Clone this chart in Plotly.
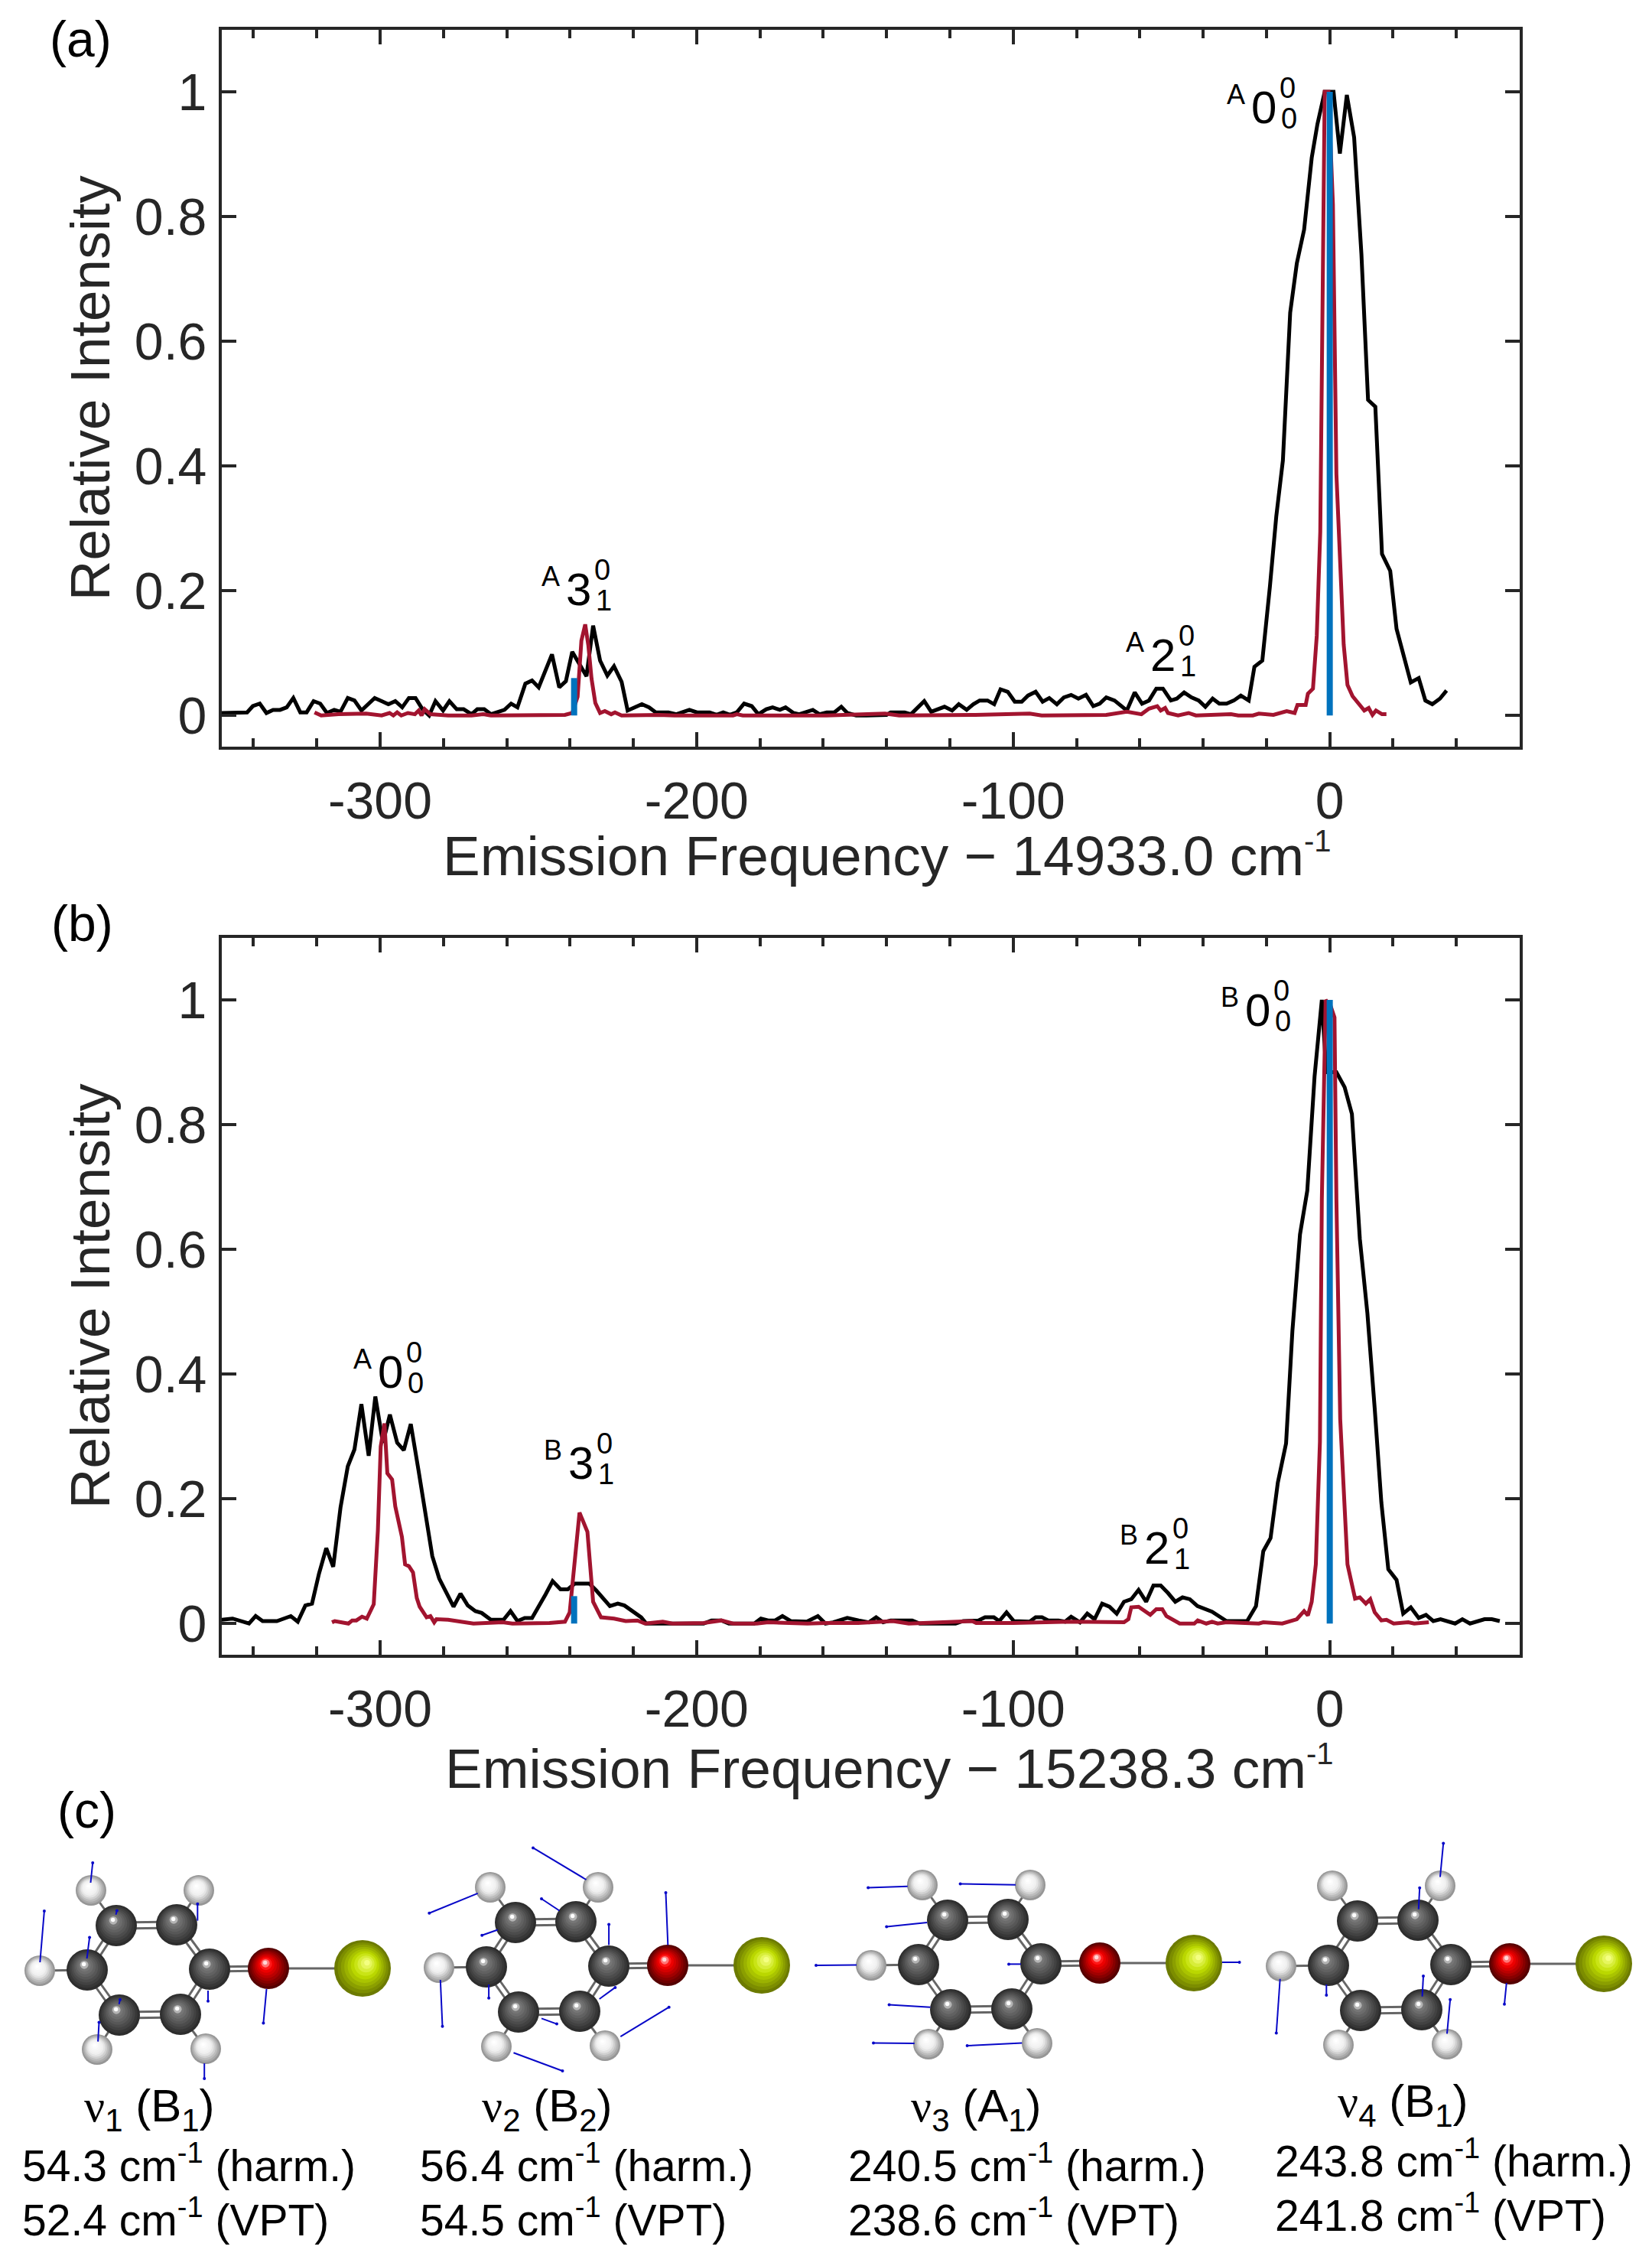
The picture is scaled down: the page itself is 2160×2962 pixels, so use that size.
import plotly.graph_objects as go

WIDTH = 2160
HEIGHT = 2962
TEXT = "#262626"
FONT = "Liberation Sans"

# (a) measured and simulated spectra, cm-1 relative to the band origin
freq_a_exp = [
    -350.1, -342, -340.2, -338, -335.9, -333.8, -331.6, -329.5, -327.4, -325.2, -323.2, -321, -318.9,
    -316.8, -314.5, -312.5, -310.2, -308.1, -305.9, -301.7, -299.5, -297.4, -295.2, -293, -290.9, -288.8,
    -286.6, -284.5, -282.5, -280.1, -278.1, -275.8, -273.6, -271.1, -269.3, -267.1, -265, -260.7, -258.6,
    -256.6, -254.1, -252, -249.9, -247.7, -245.7, -243.4, -241.3, -239.3, -237.2, -234.8, -232.7, -230.5,
    -228.2, -226.1, -223.7, -221.8, -217.3, -215, -212.9, -208.9, -206.4, -202.3, -199.9, -195.9, -193.7,
    -191.6, -189.5, -187.3, -185, -182.6, -180.5, -178, -176, -173.7, -171.9, -169.4, -167.6, -163.3,
    -161.2, -158.9, -156.5, -154.3, -152.4, -149.6, -146.4, -140, -138.7, -134.3, -132.3, -128.1, -125.9,
    -121.7, -119.3, -117.2, -114.7, -112.6, -110.6, -108.1, -106, -104, -101.7, -99.5, -97.3, -95.3,
    -92.9, -90.7, -88.6, -86.2, -84, -81.7, -79.4, -77, -74.7, -72.7, -70.6, -68, -64.1, -61.6, -59.3,
    -57.1, -54.8, -52.7, -50.2, -48.3, -46, -43.7, -41.4, -39.3, -37, -34.9, -32.6, -30.3, -28.1, -25.6,
    -23.8, -21.3, -18.9, -16.9, -14.8, -12.5, -10.4, -8.1, -5.7, -3.9, -1.6, 1.2, 3.2, 5.4, 7.7, 10, 12.1,
    14.4, 16.5, 19.1, 21.1, 25.6, 28.1, 30.2, 32.4, 34.8, 36.9,
]
int_a_exp = [
    .004, .005, .015, .019, .004, .009, .009, .013, .028, .005, .005, .023, .019,
    .004, .009, .006, .028, .024, .008, .028, .023, .018, .023, .013, .028, .028,
    .010, 0, .023, .008, .023, .010, .010, .002, .010, .010, .002, .009, .019,
    .013, .051, .056, .045, .073, .098, .045, .055, .102, .083, .063, .144, .088,
    .064, .079, .054, .008, .018, .013, .005, .005, .002, .009, .005, .005, .001,
    .005, .001, .005, .019, .015, .002, .010, .013, .009, .013, .004, .002, .009,
    .002, .005, .005, .014, .004, 0, 0, .001, .005, .005, .002, .023, .006,
    .014, .008, .018, .009, .018, .024, .024, .018, .042, .038, .022, .022, .032,
    .038, .022, .028, .018, .029, .033, .027, .033, .015, .019, .029, .024, .008, .037, .019,
    .024, .043, .043, .024, .027, .037, .029, .024, .014, .027, .019, .019, .024, .032, .024,
    .078, .088, .207, .319, .409, .646, .725, .779, .894, .948, 1.0, 1.0, .901, .995, .927, .740, .506,
    .495, .259, .232, .139, .053, .060, .024, .018, .027, .040,
]
freq_a_sim = [
    -320.7, -318.6, -313.1, -304.4, -299.5, -297, -295.8, -294.6, -293.3, -291.2, -289, -287.8, -286.9,
    -285.9, -284.1, -278.5, -271.1, -267.4, -265, -247.7, -241.6, -239.3, -237.6, -236.4, -235.2, -234.2,
    -233.2, -232, -230.5, -229, -227, -225.8, -223.7, -212, -207, -188.5, -187.3, -185.4, -159, -140.5,
    -136, -112, -94.8, -91, -81.7, -70.6, -64.1, -59.5, -57.1, -54.5, -53.4, -52, -51.1, -47.9, -44.6,
    -42.3, -31.2, -28.9, -24.3, -22.4, -17.8, -13.6, -11.1, -10.2, -7.6, -6.9, -5.3, -4.1, -3, -2.3, -1.6,
    -.4, 1, 2.1, 4.4, 5.6, 7.2, 10.9, 12.3, 13.5, 14.6, 16.5, 17.9,
]
int_a_sim = [
    .005, 0, .002, .003, 0, .004, 0, .005, 0, .004, .002, .008, 0,
    .01, .002, 0, 0, .002, 0, 0, .001, .004, .03, .12, .146, .112,
    .059, .02, .004, .007, .002, .005, 0, .001, 0, 0, .002, 0, 0, .003,
    0, .001, .003, 0, .001, .001, .006, .002, .011, .015, .008, .012, .004, 0, .004,
    0, .002, 0, 0, .003, .001, .007, .004, .017, .017, .035, .043, .128, .294, .689, 1.0,
    1.0, .819, .387, .114, .049, .031, .008, .012, .001, .008, .002, .002,
]
freq_a_stick = [-238.7, 0]
int_a_stick = [.06, 1]

# (b)
freq_b_exp = [
    -350.1, -346.6, -341.4, -339.3, -337.1, -332.6, -328.2, -326, -323.6, -321.5, -319.3, -317, -314.8,
    -312.5, -310.2, -308.1, -305.9, -303.6, -301.5, -299.1, -296.9, -294.6, -292.5, -290.3, -287.9, -285.7,
    -283.5, -281.3, -278.9, -276.8, -274.6, -272.3, -269.9, -267.9, -265, -261, -258.8, -256.6, -254.3,
    -252, -247.7, -245.5, -243, -240.7, -238.5, -233.9, -231.7, -227.4, -224.9, -222.8, -217.5, -215.9,
    -208.3, -197.8, -195.3, -192.2, -189.8, -181.8, -179.7, -177.4, -175.2, -172.9, -170.3, -165.2, -161.7,
    -159.3, -156.9, -152.4, -148.8, -145.6, -143.3, -141.1, -138.7, -131.9, -129.5, -118.2, -115.8, -111,
    -108.9, -106.1, -104.4, -102.1, -99.8, -94.8, -92.9, -90.9, -88.9, -85.7, -83.6, -81.7, -78.9, -76.6,
    -74.3, -71.9, -69.6, -67.3, -65, -62.7, -60.4, -58, -55.7, -53.4, -51.1, -48.8, -46.5, -44.2, -41.8,
    -37.2, -32.6, -26.1, -23.3, -21, -18.7, -16.4, -13.8, -11.8, -9.4, -7.1, -4.8, -2.5, -1.1, 2.1, 4.7, 7,
    9.5, 11.9, 14.2, 16.3, 18.5, 21.1, 23.2, 25.6, 28.1, 30.4, 32.7, 35, 39.6, 41.9, 44.3, 48.9, 51.2, 53.7,
]
int_b_exp = [
    .006, .008, 0, .012, .004, .004, .012, .003, .029, .032, .080, .121, .091,
    .186, .252, .279, .352, .269, .364, .290, .335, .290, .278, .320, .247, .178,
    .108, .072, .047, .027, .048, .029, .020, .017, .006, .006, .020, .004, .009,
    .009, .047, .068, .055, .055, .064, .064, .053, .028, .032, .029, .010, 0,
    0, 0, .005, .005, 0, 0, .008, .005, .005, .012, .004, .003, .012,
    0, .002, .009, .005, .002, .01, .002, .005, .005, 0, 0, .004, .005,
    .01, .01, .004, .018, .004, .003, .01, .01, .005, .005, .003, .011, .002, .016,
    .007, .032, .027, .016, .035, .039, .054, .035, .061, .061, .049, .035, .042, .039, .028,
    .019, .004, .004, .028, .116, .137, .226, .289, .469, .624, .694, .877, 1.0, .884, .884, .860, .817,
    .617, .497, .345, .194, .087, .070, .016, .026, .009, .014, .004, .007, 0, .007, 0, .007, .007, .004,
]
freq_b_sim = [
    -315.2, -314.3, -310, -308.8, -307.5, -305.7, -304.2, -302, -300.7, -299.8, -298.6, -297.7, -296.2,
    -295.2, -293.1, -292.1, -290.9, -289.6, -288.4, -287.5, -285.3, -284.1, -282.9, -282.2, -278.5, -273.6,
    -270.5, -261.3, -258.2, -246.5, -241.6, -240.1, -238.5, -237, -234.5, -233.5, -232.7, -230.2, -226.1,
    -222.4, -218.7, -216.3, -210.7, -207.6, -197.8, -192.2, -188.5, -181, -177.4, -165, -159.2, -149, -138,
    -133, -119.5, -113, -111.7, -100, -82, -72.4, -65, -63.6, -62.7, -60.4, -56.7, -54.8, -52.9, -51.6,
    -47.4, -42.8, -41.7, -39, -37.2, -35.4, -32.6, -22.4, -21, -15, -12.7, -10.4, -8.1, -6.9, -5.7, -4.4,
    -3.1, -2.5, -1.3, .3, 1.5, 2.1, 3.3, 4.6, 5.6, 8, 9.5, 11.4, 12.8, 14.2, 16.3, 17.9, 20.2, 24.8, 26.7,
    31.3,
]
int_b_sim = [
    .002, .004, 0, .005, .005, .011, .008, .031, .149, .284, .321, .241, .231,
    .188, .139, .095, .092, .082, .041, .027, .010, .012, .002, .007, .006, .003,
    0, .002, 0, .001, .003, .018, .096, .178, .147, .088, .035, .010, .008,
    .004, .005, 0, .003, 0, .001, .005, 0, 0, .002, 0, .001, .001, .004,
    0, .003, .004, .001, .001, .003, .002, .002, .007, .026, .027, .014, .023, .023, .012,
    0, 0, .005, 0, .003, 0, .002, 0, .002, 0, .004, .007, .020, .013, .035, .095,
    .292, .680, 1.0, .990, .972, .680, .328, .194, .095, .040, .042, .032, .039, .018, .005, .006, 0, .002, 0,
    .002,
]
freq_b_stick = [-238.7, 0]
int_b_stick = [.044, 1]

x_ticks = [-300, -200, -100, 0]
x_tick_labels = ["-300", "-200", "-100", "0"]
y_ticks = [0, .2, .4, .6, .8, 1]
y_tick_labels = ["0", "0.2", "0.4", "0.6", "0.8", "1"]

# peak labels: state, number, upper, lower and where the number sits on the page
peak_states = ["A", "A", "A", "B", "A", "B", "B"]
peak_numbers = ["3", "2", "0", "3", "0", "2", "0"]
peak_lower = ["1", "1", "0", "1", "0", "1", "0"]
peak_x = [756, 1520, 1652, 759, 510, 1512, 1644]
peak_y = [770, 856, 140, 1912, 1793, 2023, 1320]

NU = "<span style='font-family:Liberation Serif'>ν</span>"
mode_names = [NU + "<sub>1</sub> (B<sub>1</sub>)", NU + "<sub>2</sub> (B<sub>2</sub>)",
              NU + "<sub>3</sub> (A<sub>1</sub>)", NU + "<sub>4</sub> (B<sub>1</sub>)"]
mode_harm = ["54.3", "56.4", "240.5", "243.8"]
mode_vpt = ["52.4", "54.5", "238.6", "241.8"]
mode_name_pos = [(195, 2757), (715, 2757), (1276, 2757), (1834, 2751)]
mode_text_x = [27, 547, 1107, 1665]
mode_text_dy = [0, 0, 0, -6]

# molecule drawing, page pixels, first molecule + offset of each one
hydrogen = [(119, 2471), (260, 2471), (52, 2576), (127, 2679), (269, 2678)]
carbon = [(152, 2517), (231, 2516), (114, 2575), (274, 2574), (156, 2634), (236, 2633)]
oxygen = [(351, 2573)]
halogen = [(474, 2573)]
mol_offsets = [(0, 0), (522, -4), (1087, -7), (1623, -6)]

# displacement vectors as tip x, tip y, base x, base y
vectors = [
    (121.2, 2435, 118.5, 2461), (57.9, 2498, 52.3, 2565), (152.9, 2497.5, 151.5, 2502.7),
    (258.3, 2488.8, 258.3, 2510.6), (117.1, 2532.5, 113.6, 2560.2), (157, 2613.8, 155.6, 2619.8),
    (272, 2615.8, 272, 2601.9), (344.4, 2644.4, 348.5, 2599.9), (129.5, 2643.6, 128.1, 2668.6),
    (267.2, 2717, 267.2, 2697.1),
    (697, 2415.4, 766.5, 2457), (561.3, 2500.7, 624.7, 2474.9), (708, 2482, 731.4, 2497.5),
    (630.2, 2529.7, 650.8, 2522.5), (796.1, 2515.4, 796.1, 2542.4), (870.5, 2474.1, 873.3, 2542.4),
    (578.5, 2648.7, 575.8, 2588), (639.1, 2611.8, 639.1, 2594), (804.4, 2597.9, 783.7, 2613),
    (728, 2645.6, 708, 2638.4), (874.7, 2623.7, 811.3, 2662.2), (735.5, 2707, 671.5, 2683.3),
    (1135.1, 2467.4, 1186.7, 2465.8), (1255.6, 2462.6, 1327.9, 2463.8), (1159.2, 2518.6, 1212.2, 2513),
    (1067, 2569, 1120, 2568.6), (1319, 2567.4, 1334.8, 2567.4), (1620.6, 2565, 1597.9, 2565),
    (1162.6, 2620.6, 1216.4, 2623.7), (1142, 2670.6, 1195.7, 2671), (1264.6, 2674.1, 1336.2, 2670.6),
    (1887.2, 2409.4, 1883, 2453.5), (1856.2, 2467.8, 1854.8, 2495.6), (1668.8, 2657.5, 1673.7, 2586.8),
    (1734.3, 2607.9, 1734.3, 2594), (1861, 2582.9, 1859.6, 2609.8), (1967, 2619.8, 1969.8, 2592),
    (1896.1, 2613.8, 1892, 2658.3),
]


def page_domain(start, end, size):
    return [start / size, end / size]


def mix(c0, c1, t):
    return "rgb(%d,%d,%d)" % tuple(round(a + (b - a) * t) for a, b in zip(c0, c1))


def wavenumber(value, sup_size):
    # the -1 is smaller than a plain <sup> in the reference
    return f"{value} cm<sup><span style='font-size:{sup_size}px'>-1</span></sup>"


def add_spectrum(fig, xa, ya, freq_exp, int_exp, freq_sim, int_sim, freq_stick, int_stick):
    fig.add_trace(go.Scatter(x=freq_exp, y=int_exp, mode="lines", xaxis=xa, yaxis=ya,
                             line=dict(color="#000000", width=5)))
    fig.add_trace(go.Scatter(x=freq_sim, y=int_sim, mode="lines", xaxis=xa, yaxis=ya,
                             line=dict(color="#A2142F", width=5)))
    stick_x, stick_y = [], []
    for f, i in zip(freq_stick, int_stick):
        stick_x += [f, f, None]
        stick_y += [0, i, None]
    fig.add_trace(go.Scatter(x=stick_x, y=stick_y, mode="lines", xaxis=xa, yaxis=ya,
                             line=dict(color="#0072BD", width=8)))


def label(fig, x, y, text, size, color="#000000", **kw):
    fig.add_annotation(x=x, y=y, xref="x3", yref="y3", text=text, showarrow=False,
                       font=dict(family=FONT, size=size, color=color), **kw)


def add_bonds(fig):
    pairs_single = [(carbon[0], hydrogen[0]), (carbon[1], hydrogen[1]), (carbon[2], hydrogen[2]),
                    (carbon[4], hydrogen[3]), (carbon[5], hydrogen[4]), (oxygen[0], halogen[0])]
    # ring bonds come as two thin parallel sticks
    pairs_double = [(carbon[0], carbon[1], 0, 4), (carbon[4], carbon[5], 0, 4),
                    (carbon[0], carbon[2], 4, 1), (carbon[2], carbon[4], 4, -1),
                    (carbon[1], carbon[3], 4, -1), (carbon[3], carbon[5], 4, 1),
                    (carbon[3], oxygen[0], 0, 3)]
    xs, ys = [], []
    for ox, oy in mol_offsets:
        for a, b in pairs_single:
            xs += [a[0] + ox, b[0] + ox, None]
            ys += [a[1] + oy, b[1] + oy, None]
        for a, b, dx, dy in pairs_double:
            for s in (-1, 1):
                xs += [a[0] + ox + s * dx, b[0] + ox + s * dx, None]
                ys += [a[1] + oy + s * dy, b[1] + oy + s * dy, None]
    fig.add_trace(go.Scatter(x=xs, y=ys, mode="lines", xaxis="x3", yaxis="y3",
                             line=dict(color="#666666", width=3)))


def add_atoms(fig, atoms, diameter, edge, body, shine, offset=(-0.08, -0.14), body_at=0.6):
    layers = 10
    xs = [a[0] + ox for ox, oy in mol_offsets for a in atoms]
    ys = [a[1] + oy for ox, oy in mol_offsets for a in atoms]
    for i in range(layers):
        t = i / (layers - 1)
        if t < body_at:
            color = mix(edge, body, t / body_at)
        else:
            color = mix(body, shine, (t - body_at) / (1 - body_at))
        fig.add_trace(go.Scatter(
            x=[v + offset[0] * diameter * t for v in xs],
            y=[v + offset[1] * diameter * t for v in ys],
            mode="markers", xaxis="x3", yaxis="y3",
            marker=dict(size=diameter * (1 - 0.9 * t), color=color, line=dict(width=0)),
        ))


def add_vectors(fig):
    xs, ys = [], []
    for tip_x, tip_y, base_x, base_y in vectors:
        xs += [tip_x, base_x, None]
        ys += [tip_y, base_y, None]
    fig.add_trace(go.Scatter(x=xs, y=ys, mode="lines", xaxis="x3", yaxis="y3",
                             line=dict(color="#0808C8", width=2)))
    fig.add_trace(go.Scatter(x=[v[0] for v in vectors], y=[v[1] for v in vectors], mode="markers",
                             xaxis="x3", yaxis="y3", marker=dict(size=4, color="#0808C8")))


fig = go.Figure()
add_spectrum(fig, "x", "y", freq_a_exp, int_a_exp, freq_a_sim, int_a_sim, freq_a_stick, int_a_stick)
add_spectrum(fig, "x2", "y2", freq_b_exp, int_b_exp, freq_b_sim, int_b_sim, freq_b_stick, int_b_stick)

add_bonds(fig)
add_atoms(fig, carbon, 54, (45, 45, 45), (120, 120, 120), (255, 255, 255), body_at=0.8)
add_atoms(fig, hydrogen, 40, (150, 150, 150), (238, 238, 238), (255, 255, 255), body_at=0.5)
add_atoms(fig, oxygen, 54, (85, 0, 0), (255, 0, 0), (255, 215, 215), body_at=0.75)
add_atoms(fig, halogen, 74, (108, 122, 0), (192, 222, 0), (244, 255, 130), offset=(0.08, -0.1), body_at=0.6)
add_vectors(fig)

x_axis = dict(
    range=[-350, 60], tickmode="array", tickvals=x_ticks, ticktext=x_tick_labels,
    ticks="inside", ticklen=19, tickwidth=3.5, tickcolor=TEXT, showline=True, linewidth=4, linecolor=TEXT,
    mirror="ticks", showgrid=False, zeroline=False, ticklabelstandoff=8,
    tickfont=dict(family=FONT, size=68, color=TEXT),
    minor=dict(ticks="inside", ticklen=11, tickwidth=3.5, tickcolor=TEXT, tick0=0, dtick=20, showgrid=False),
)
y_axis = dict(
    range=[-0.05, 1.1], tickmode="array", tickvals=y_ticks, ticktext=y_tick_labels,
    ticks="inside", ticklen=19, tickwidth=3.5, tickcolor=TEXT, showline=True, linewidth=4, linecolor=TEXT,
    mirror="ticks", showgrid=False, zeroline=False, ticklabelstandoff=2,
    tickfont=dict(family=FONT, size=68, color=TEXT),
    title=dict(text="Relative Intensity", standoff=9, font=dict(family=FONT, size=73, color=TEXT)),
)
fig.update_layout(
    width=WIDTH, height=HEIGHT, margin=dict(l=0, r=0, t=0, b=0),
    paper_bgcolor="white", plot_bgcolor="rgba(0,0,0,0)", showlegend=False, hovermode=False,
    xaxis=dict(x_axis, domain=page_domain(290, 1987, WIDTH), anchor="y"),
    yaxis=dict(y_axis, domain=[1 - 976 / HEIGHT, 1 - 38.5 / HEIGHT], anchor="x"),
    xaxis2=dict(x_axis, domain=page_domain(290, 1987, WIDTH), anchor="y2"),
    yaxis2=dict(y_axis, domain=[1 - 2163 / HEIGHT, 1 - 1225.5 / HEIGHT], anchor="x2"),
    xaxis3=dict(range=[0, WIDTH], domain=[0, 1], visible=False, anchor="y3"),
    yaxis3=dict(range=[HEIGHT, 0], domain=[0, 1], visible=False, anchor="x3"),
)

# x titles sit off centre of the axes, so they are placed by hand
label(fig, 1160, 1118, wavenumber("Emission Frequency − 14933.0", 40), 73, TEXT)
label(fig, 1163, 2311, wavenumber("Emission Frequency − 15238.3", 40), 73, TEXT)

label(fig, 63, 51, "(a)", 66, xanchor="left")
label(fig, 65, 1207, "(b)", 66, xanchor="left")
label(fig, 73, 2366, "(c)", 66, xanchor="left")

for state, num, low, x, y in zip(peak_states, peak_numbers, peak_lower, peak_x, peak_y):
    label(fig, x - 36, y - 17, state, 36)
    label(fig, x, y, num, 60)
    label(fig, x + 31, y - 25, "0", 38)
    label(fig, x + 33, y + 15, low, 38)

for i, name in enumerate(mode_names):
    label(fig, mode_name_pos[i][0], mode_name_pos[i][1], name, 60)
    label(fig, mode_text_x[i], 2828 + mode_text_dy[i], wavenumber(mode_harm[i], 38) + " (harm.)", 57,
          xanchor="left")
    label(fig, mode_text_x[i], 2899 + mode_text_dy[i], wavenumber(mode_vpt[i], 38) + " (VPT)", 57,
          xanchor="left")

fig.write_html("out.html", config=dict(displayModeBar=False), post_script="document.body.style.margin='0';")
